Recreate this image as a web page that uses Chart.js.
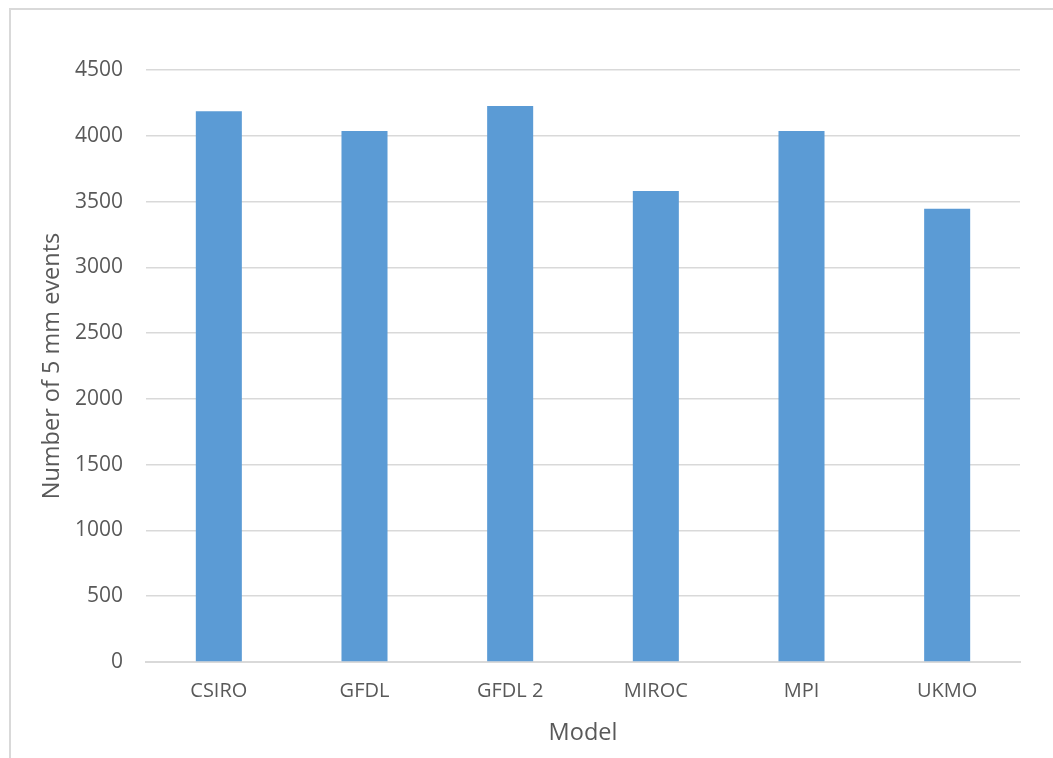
<!DOCTYPE html>
<html>
<head>
<meta charset="utf-8">
<script src="https://cdn.jsdelivr.net/npm/chart.js@4/dist/chart.umd.min.js"></script>
<style>
  html, body { margin: 0; padding: 0; background: #fff; overflow: hidden; }
  #frame { position: absolute; left: 9px; top: 8px; width: 1200px; height: 900px;
           border: 2px solid #d9d9d9; box-sizing: border-box; }
  #c { position: absolute; left: 0; top: 0; }
</style>
</head>
<body>
<div id="frame"></div>
<canvas id="c" width="1053" height="758"></canvas>
<script>
const categories = ['CSIRO', 'GFDL', 'GFDL 2', 'MIROC', 'MPI', 'UKMO'];
const events5mm = [4186, 4036, 4226, 3580, 4036, 3446];
const yTicks = [0, 500, 1000, 1500, 2000, 2500, 3000, 3500, 4000, 4500];

const textColor = '#595959';
const gridColor = '#d9d9d9';
const fontFamily = '"Open Sans", "Liberation Sans", sans-serif';

new Chart(document.getElementById('c'), {
  type: 'bar',
  data: {
    labels: categories,
    datasets: [{
      label: 'Number of 5 mm events',
      data: events5mm,
      backgroundColor: '#5b9bd5',
      borderWidth: 0,
      barPercentage: 0.316,
      categoryPercentage: 1.0
    }]
  },
  options: {
    responsive: false,
    animation: false,
    devicePixelRatio: 1,
    layout: { padding: { left: 0, right: 33, top: 70, bottom: 0 } },
    plugins: { legend: { display: false }, tooltip: { enabled: false } },
    scales: {
      x: {
        grid: { display: false, drawTicks: false },
        border: { display: true, color: gridColor, width: 2 },
        ticks: { color: textColor, font: { family: fontFamily, size: 20 }, padding: 17, maxRotation: 0 },
        title: { display: true, text: 'Model', color: textColor,
                 font: { family: fontFamily, size: 23.5 }, padding: { top: 0, bottom: 11 } },
        afterFit: (s) => { s.height = 96; }
      },
      y: {
        min: 0, max: 4500,
        afterBuildTicks: (s) => { s.ticks = yTicks.map(v => ({ value: v })); },
        grid: { color: gridColor, lineWidth: 1.5, drawTicks: false },
        border: { display: false },
        ticks: { color: textColor, font: { family: fontFamily, size: 21 }, padding: 23,
                 callback: (v) => String(v) },
        title: { display: true, text: 'Number of 5 mm events', color: textColor,
                 font: { family: fontFamily, size: 23.5 }, padding: { top: 38, bottom: 0 } },
        afterFit: (s) => { s.width = 146; }
      }
    }
  }
});
</script>
</body>
</html>
